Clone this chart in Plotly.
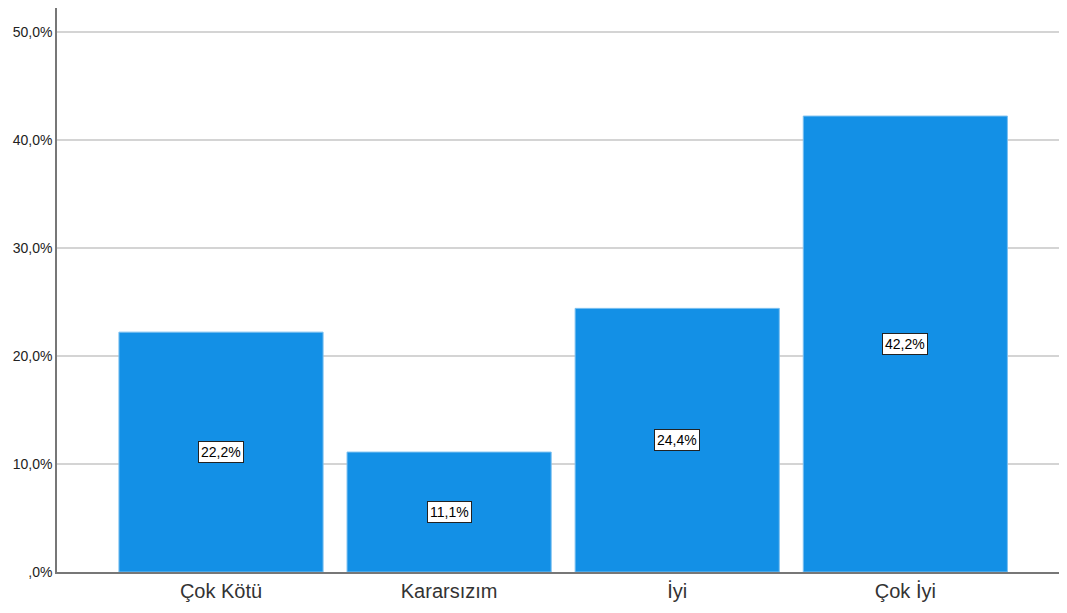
import plotly.graph_objects as go

categories = ["Çok Kötü", "Kararsızım", "İyi", "Çok İyi"]
values = [22.2, 11.1, 24.4, 42.2]
tick_vals = [0, 10, 20, 30, 40, 50]
tick_text = [",0%", "10,0%", "20,0%", "30,0%", "40,0%", "50,0%"]
label_text = [f"{v:.1f}%".replace(".", ",") for v in values]

fig = go.Figure()
fig.add_trace(go.Bar(
    x=list(range(len(categories))), y=values,
    marker=dict(color="#1390E6", line=dict(color="#7cc0f0", width=1)),
    width=0.895,
    hoverinfo="skip",
))

for i, (v, t) in enumerate(zip(values, label_text)):
    fig.add_annotation(
        x=i, y=v / 2, text=t, showarrow=False,
        font=dict(family="Liberation Sans, Arial", size=14, color="#000000"),
        bgcolor="#ffffff", bordercolor="#222222", borderwidth=1, borderpad=2,
    )

fig.update_layout(
    width=1057, height=597,
    margin=dict(l=49, r=0, t=0, b=33),
    paper_bgcolor="#ffffff", plot_bgcolor="#ffffff",
    showlegend=False,
    font=dict(family="Liberation Sans, Arial", color="#222222"),
)
fig.update_xaxes(
    range=[-0.719, 3.70],
    tickvals=list(range(len(categories))), ticktext=categories,
    tickfont=dict(size=20, color="#333333"),
    showgrid=False, showline=True, linecolor="#777777", linewidth=1.5,
    ticks="", zeroline=False,
)
fig.update_yaxes(
    range=[0, 52.2],
    tickvals=tick_vals, ticktext=tick_text,
    tickfont=dict(size=14, color="#222222"),
    showgrid=True, gridcolor="#d4d4d4", gridwidth=1.5,
    showline=True, linecolor="#777777", linewidth=1.5,
    ticks="", zeroline=False,
)

fig.write_html("out.html")
